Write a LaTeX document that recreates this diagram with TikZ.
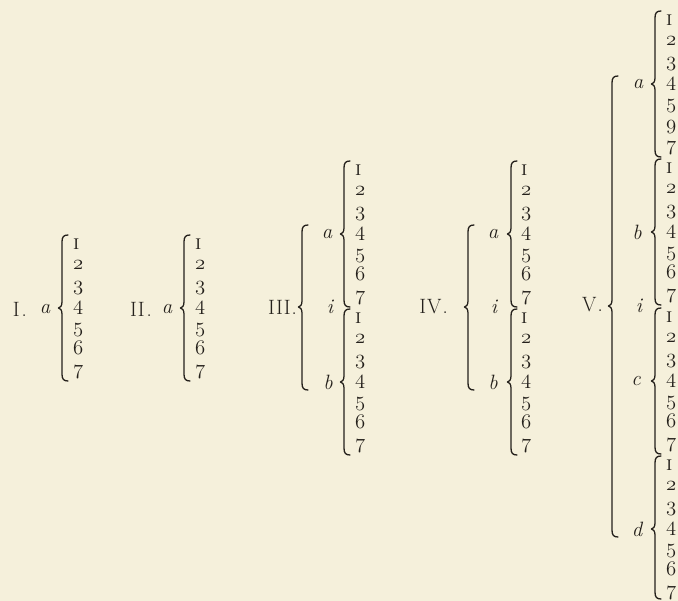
\documentclass[tikz,border=0pt]{standalone}
\definecolor{paper}{RGB}{245,240,219}
\definecolor{ink}{RGB}{36,32,27}
\newcommand\osn[1]{\ifnum#1=1 {\scshape i}\else{\usefont{OML}{cmm}{m}{it}#1}\fi}
\tikzset{
  num/.style={anchor=west, inner sep=0pt, text=ink, font=\fontsize{20.74}{25}\selectfont},
  lab/.style={inner sep=0pt, text=ink, font=\fontsize{20.74}{25}\selectfont\itshape},
  roman/.style={anchor=east, inner sep=0pt, text=ink, font=\fontsize{20.74}{25}\selectfont},
  bracepath/.style={draw=ink, line width=1.3pt, line cap=round, line join=round},
}
\def\stdlist{1/0,2/21,3/44,4/64,5/86,6/104,7/128}
\def\oddlist{1/0,2/21,3/44,4/64,5/86,9/107,7/128}
\newcommand\numgroup[4]{%
  \foreach \d/\o [count=\k] in #4 {\node[num] (#1-\k) at (#2,#3+\o) {\osn{\d}};}}
% brace: x, top, middle (tip), bottom
\newcommand\brc[4]{%
  \draw[bracepath] (#1+6,#2) .. controls (#1+1.5,#2) and (#1,#2+2) .. (#1,#2+7)
    -- (#1,#3-6) .. controls (#1,#3-2) and (#1-2,#3) .. (#1-3.5,#3)
    .. controls (#1-2,#3) and (#1,#3+2) .. (#1,#3+6)
    -- (#1,#4-7) .. controls (#1,#4-2) and (#1+1.5,#4) .. (#1+6,#4);}
\begin{document}
\begin{tikzpicture}[x=1pt,y=-1pt]
\path[use as bounding box, fill=paper] (0,0) rectangle (678,601);
% ---- I ----
\node[roman] (rI) at (27,309) {I\kern2pt.};
\node[lab] (I-a) at (45,309) {a};
\brc{62}{235}{308}{381}
\numgroup{I-a}{73}{244}{\stdlist}
% ---- II ----
\node[roman] (rII) at (152,309) {I\kern1pt I\kern2pt.};
\node[lab] (II-a) at (167,309) {a};
\brc{184}{235}{308}{381}
\numgroup{II-a}{195}{244}{\stdlist}
% ---- III ----
\node[roman] (rIII) at (297,307) {I\kern1pt I\kern1pt I\kern1pt.};
\brc{302}{225}{307}{390}
\node[lab] (III-a) at (327,234) {a};
\node[lab] (III-i) at (330,307) {i};
\node[lab] (III-b) at (328,382) {b};
\brc{344}{161}{234}{307}
\brc{344}{309}{382}{455}
\numgroup{III-a}{355}{170}{\stdlist}
\numgroup{III-b}{355}{318}{\stdlist}
% ---- IV ----
\node[roman] (rIV) at (448,307) {I\kern1pt V\kern1pt.};
\brc{468}{225}{307}{390}
\node[lab] (IV-a) at (493,234) {a};
\node[lab] (IV-i) at (494,307) {i};
\node[lab] (IV-b) at (493,382) {b};
\brc{511}{161}{234}{307}
\brc{511}{309}{382}{455}
\numgroup{IV-a}{521}{170}{\stdlist}
\numgroup{IV-b}{521}{318}{\stdlist}
% ---- V ----
\node[roman] (rV) at (603,305) {V\kern1pt.};
\brc{612}{76}{306}{537}
\node[lab] (V-a) at (638,84) {a};
\node[lab] (V-b) at (637,232) {b};
\node[lab] (V-i) at (639,306) {i};
\node[lab] (V-c) at (636,381) {c};
\node[lab] (V-d) at (637,529) {d};
\brc{655}{11}{84}{157}
\brc{655}{159}{232}{305}
\brc{655}{308}{381}{454}
\brc{655}{456}{529}{599}
\numgroup{V-a}{666}{20}{\oddlist}
\numgroup{V-b}{666}{168}{\stdlist}
\numgroup{V-c}{666}{317}{\stdlist}
\numgroup{V-d}{666}{465}{\stdlist}
\end{tikzpicture}
\end{document}
